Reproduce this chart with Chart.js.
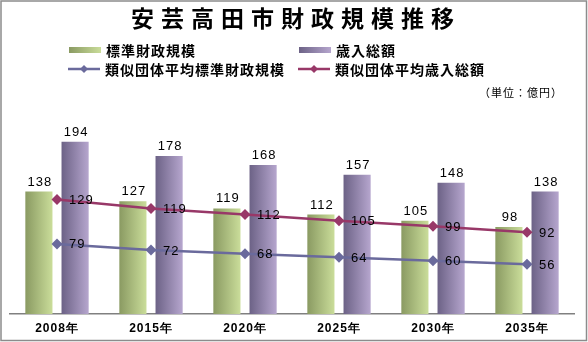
<!DOCTYPE html>
<html>
<head>
<meta charset="utf-8">
<script src="https://cdn.jsdelivr.net/npm/chart.js@4/dist/chart.umd.min.js"></script>
<style>
  html, body { margin: 0; padding: 0; background: #fff; }
  #wrap { width: 588px; height: 342px; }
</style>
</head>
<body>
<div id="wrap"><canvas id="chart" width="588" height="342"></canvas></div>
<script>
const chartTitle = '安芸高田市財政規模推移';
const years = ['2008年', '2015年', '2020年', '2025年', '2030年', '2035年'];
const standardScale = [138, 127, 119, 112, 105, 98];
const totalRevenue = [194, 178, 168, 157, 148, 138];
const peerStandardScale = [79, 72, 68, 64, 60, 56];
const peerTotalRevenue = [129, 119, 112, 105, 99, 92];

const CAT_PCT = 0.77;
const BAR_PCT = 0.75;
const FONT = '"Noto Sans CJK JP", "Liberation Sans", sans-serif';
const NUM_FONT = '"Liberation Sans", Arial, sans-serif';

const GREEN = ['#8a9a62', '#cadd9a'];
const PURPLE = ['#6c6286', '#b6a6ce'];
const BLUE_LINE = '#6a6a9c';
const RED_LINE = '#983868';

// horizontal gradient for one bar, position worked out from the x scale
function barGradient(c, colors) {
  const chart = c.chart;
  const xs = chart.scales.x;
  if (!xs || c.dataIndex === undefined || !chart.chartArea) return colors[1];
  const slot = xs.width / years.length * CAT_PCT / 2;
  const w = slot * BAR_PCT;
  const cx = xs.getPixelForValue(c.dataIndex) + (c.datasetIndex === 0 ? -slot / 2 : slot / 2);
  const g = chart.ctx.createLinearGradient(cx - w / 2, 0, cx + w / 2, 0);
  g.addColorStop(0, colors[0]);
  g.addColorStop(1, colors[1]);
  return g;
}

const spacing = {
  id: 'spacing',
  beforeUpdate: chart => { chart.ctx.letterSpacing = '1px'; },
  beforeDraw: chart => {
    const ctx = chart.ctx;
    ctx.letterSpacing = '1px';
    ctx.save();
    ctx.fillStyle = '#fff';
    ctx.fillRect(0, 0, chart.width, chart.height);
    ctx.restore();
  }
};

const extras = {
  id: 'extras',
  afterDatasetsDraw: chart => {
    const ctx = chart.ctx;
    ctx.save();
    ctx.letterSpacing = '1px';
    ctx.fillStyle = '#000';
    ctx.font = '13px ' + NUM_FONT;

    // values over the bars
    ctx.textAlign = 'center';
    ctx.textBaseline = 'alphabetic';
    [0, 1].forEach(i => {
      const meta = chart.getDatasetMeta(i);
      meta.data.forEach((bar, j) => {
        ctx.fillText(chart.data.datasets[i].data[j], bar.x + 1, bar.y - 6);
      });
    });

    // values to the right of the line points
    ctx.textAlign = 'left';
    ctx.textBaseline = 'middle';
    [2, 3].forEach(i => {
      const meta = chart.getDatasetMeta(i);
      meta.data.forEach((pt, j) => {
        ctx.fillText(chart.data.datasets[i].data[j], pt.x + 12, pt.y + 1);
      });
    });
    ctx.restore();
  },
  afterDraw: chart => {
    const ctx = chart.ctx;
    ctx.save();

    // title, widely spaced
    ctx.letterSpacing = '7px';
    ctx.font = 'bold 23px ' + FONT;
    ctx.fillStyle = '#000';
    ctx.textAlign = 'left';
    ctx.textBaseline = 'middle';
    ctx.fillText(chartTitle, 131, 18);

    ctx.letterSpacing = '1px';

    // legend
    const ds = chart.data.datasets;
    const items = [
      { x: 69, y: 50, kind: 'bar', colors: GREEN, label: ds[0].label },
      { x: 299, y: 50, kind: 'bar', colors: PURPLE, label: ds[1].label },
      { x: 68, y: 69, kind: 'line', color: BLUE_LINE, label: ds[2].label },
      { x: 298, y: 69, kind: 'line', color: RED_LINE, label: ds[3].label }
    ];
    ctx.font = 'bold 14px ' + FONT;
    items.forEach(it => {
      if (it.kind === 'bar') {
        const g = ctx.createLinearGradient(it.x, 0, it.x + 32, 0);
        g.addColorStop(0, it.colors[0]);
        g.addColorStop(1, it.colors[1]);
        ctx.fillStyle = g;
        ctx.fillRect(it.x, it.y - 3, 32, 6);
      } else {
        ctx.strokeStyle = it.color;
        ctx.lineWidth = 2.5;
        ctx.beginPath();
        ctx.moveTo(it.x, it.y);
        ctx.lineTo(it.x + 32, it.y);
        ctx.stroke();
        ctx.fillStyle = it.color;
        ctx.beginPath();
        ctx.moveTo(it.x + 16, it.y - 4);
        ctx.lineTo(it.x + 20, it.y);
        ctx.lineTo(it.x + 16, it.y + 4);
        ctx.lineTo(it.x + 12, it.y);
        ctx.closePath();
        ctx.fill();
      }
      ctx.fillStyle = '#000';
      ctx.fillText(it.label, it.x + 37, it.y + 1);
    });

    // unit note
    ctx.font = '11px ' + FONT;
    ctx.textAlign = 'right';
    ctx.fillText('（単位：億円）', 563, 93);

    // outer frame
    ctx.strokeStyle = '#8c8c8c';
    ctx.lineWidth = 1.5;
    ctx.strokeRect(1, 1, 585.5, 339.5);
    ctx.restore();
  }
};

const lineDataset = (label, values, color) => ({
  type: 'line',
  label: label,
  data: values,
  order: 0,
  borderColor: color,
  backgroundColor: color,
  borderWidth: 2.5,
  pointStyle: 'rectRot',
  pointRadius: 5.5,
  pointBorderWidth: 0,
  tension: 0
});

const data = {
  labels: years,
  datasets: [{
    label: '標準財政規模',
    data: standardScale,
    order: 1,
    backgroundColor: c => barGradient(c, GREEN),
    categoryPercentage: CAT_PCT,
    barPercentage: BAR_PCT
  }, {
    label: '歳入総額',
    data: totalRevenue,
    order: 1,
    backgroundColor: c => barGradient(c, PURPLE),
    categoryPercentage: CAT_PCT,
    barPercentage: BAR_PCT
  },
  lineDataset('類似団体平均標準財政規模', peerStandardScale, BLUE_LINE),
  lineDataset('類似団体平均歳入総額', peerTotalRevenue, RED_LINE)
  ]
};

const config = {
  type: 'bar',
  data: data,
  plugins: [spacing, extras],
  options: {
    responsive: false,
    animation: false,
    layout: {
      padding: { left: 10, right: 14, top: 101, bottom: 0 }
    },
    scales: {
      x: {
        grid: { display: false, drawTicks: false },
        border: { display: true, color: '#808080', width: 1.5 },
        ticks: {
          color: '#000',
          font: { family: NUM_FONT, size: 12, weight: 'bold' },
          padding: 7
        },
        afterFit: scale => { scale.height = 28; }
      },
      y: {
        display: false,
        min: 0,
        max: 240
      }
    },
    plugins: {
      legend: { display: false },
      tooltip: { enabled: false },
      title: { display: false }
    }
  }
};

new Chart(document.getElementById('chart'), config);
</script>
</body>
</html>
